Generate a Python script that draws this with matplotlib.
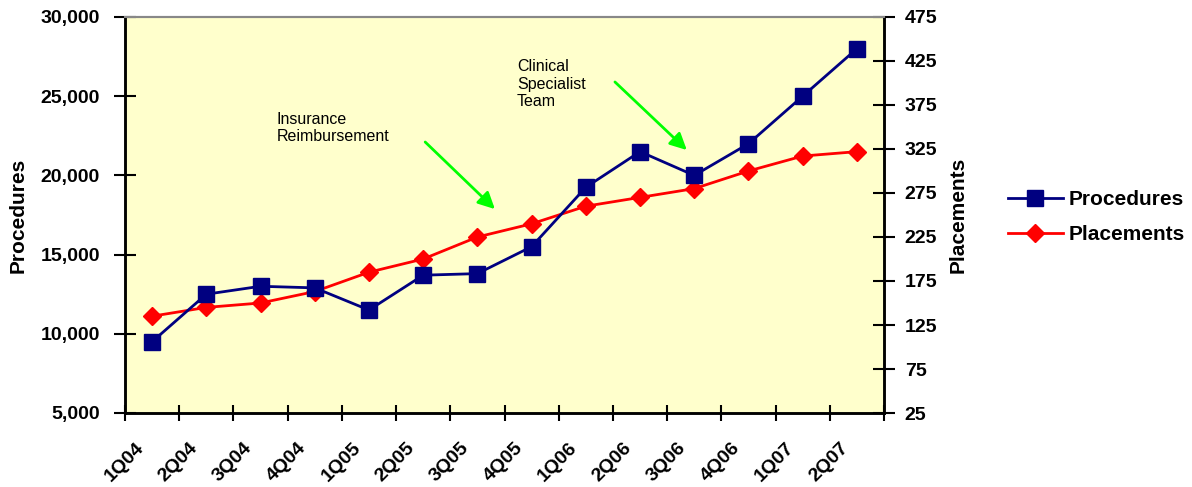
import matplotlib
matplotlib.use("Agg")
import matplotlib.pyplot as plt
from matplotlib.ticker import FuncFormatter, FixedLocator
from matplotlib.transforms import ScaledTranslation
import numpy as np

plt.rcParams["font.family"] = ["Liberation Sans", "DejaVu Sans"]

# квартальные данные
quarters = ["1Q04", "2Q04", "3Q04", "4Q04", "1Q05", "2Q05", "3Q05",
            "4Q05", "1Q06", "2Q06", "3Q06", "4Q06", "1Q07", "2Q07"]
procedures = [9500, 12500, 13000, 12900, 11500, 13700, 13800,
              15500, 19250, 21500, 20000, 22000, 25000, 28000]
placements = [135, 145, 150, 163, 185, 200, 225,
              240, 260, 270, 280, 300, 317, 322]

NAVY = "#000080"
RED = "#FF0000"
GREEN = "#00FF00"

fig = plt.figure(figsize=(11.92, 4.87), dpi=100)
ax = fig.add_axes([125 / 1192, 74 / 487, 759 / 1192, 396 / 487])
ax2 = ax.twinx()
ax2.patch.set_facecolor("#FFFFCC")
ax2.patch.set_visible(True)

x = np.arange(len(quarters))
ln1, = ax.plot(x, procedures, color=NAVY, lw=2, marker="s", ms=12,
               mfc=NAVY, mec=NAVY, label="Procedures", zorder=3)
ln2, = ax2.plot(x, placements, color=RED, lw=2, marker="D", ms=9,
                mfc=RED, mec=RED, label="Placements", zorder=3)
# синяя линия поверх красной
ax.set_zorder(ax2.get_zorder() + 1)
ax.patch.set_visible(False)

ax.set_xlim(-0.5, len(quarters) - 0.5)
ax.set_ylim(5000, 30000)
ax2.set_ylim(25, 475)
ax.set_yticks(np.arange(5000, 30001, 5000))
ax2.set_yticks(np.arange(25, 476, 50))
ax.yaxis.set_major_formatter(FuncFormatter(lambda v, p: f"{int(v):,}"))

# деления по границам кварталов, подписи по центрам
ax.xaxis.set_major_locator(FixedLocator(x))
ax.xaxis.set_minor_locator(FixedLocator(np.arange(-0.5, len(quarters), 1.0)))
ax.tick_params(axis="x", which="major", length=0, pad=12)
ax.tick_params(axis="x", which="minor", length=12, width=1.5, direction="inout")
ax.tick_params(axis="y", length=16, width=1.5, direction="inout",
               labelsize=14, pad=10)
ax2.tick_params(axis="y", length=16, width=1.5, direction="inout",
                labelsize=14, pad=7)
ax.set_xticklabels(quarters, rotation=45, ha="right", rotation_mode="anchor",
                   fontsize=14, fontweight="bold")
# сдвиг подписей кварталов влево-вниз
shift = ScaledTranslation(-17 / 100, -10 / 100, fig.dpi_scale_trans)
for tick in ax.xaxis.get_major_ticks():
    tick.label1.set_transform(tick.label1.get_transform() + shift)
for lab in ax.get_yticklabels() + ax2.get_yticklabels():
    lab.set_fontweight("bold")

for a in (ax, ax2):
    for side in ("left", "right", "bottom"):
        a.spines[side].set_linewidth(1.8)
        a.spines[side].set_color("black")
    a.spines["top"].set_color("#888888")
    a.spines["top"].set_linewidth(1.5)

ax.set_ylabel("Procedures", fontsize=15, fontweight="bold", labelpad=9)
ax2.set_ylabel("Placements", fontsize=15, fontweight="bold", labelpad=8)

# подписи событий со стрелками
arrow = dict(arrowstyle="-|>,head_length=1.0,head_width=0.5", color=GREEN, lw=2)
ax.text(2.3, 23000, "Insurance\nReimbursement", fontsize=11.5,
        va="center", ha="left")
ax.annotate("", xy=(6.36, 17750), xytext=(5.0, 22230), arrowprops=arrow)
ax.text(6.73, 25750, "Clinical\nSpecialist\nTeam", fontsize=11.5,
        va="center", ha="left")
ax.annotate("", xy=(9.9, 21480), xytext=(8.5, 26020), arrowprops=arrow)

fig.legend(handles=[ln1, ln2], loc="center left",
           bbox_to_anchor=(1000 / 1192, 1 - 217 / 487), frameon=False,
           prop=dict(size=15, weight="bold"), handlelength=2.6,
           handletextpad=0.3, labelspacing=0.75, borderaxespad=0)

fig.savefig("out.png", dpi=100)
